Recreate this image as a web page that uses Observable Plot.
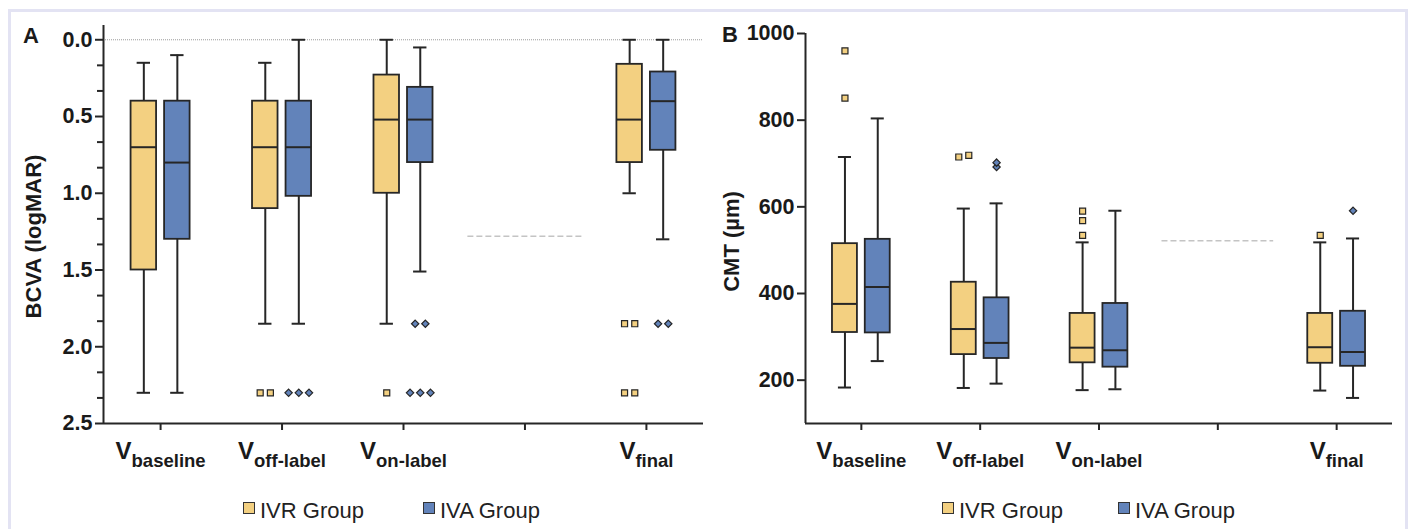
<!DOCTYPE html>
<html>
<head>
<meta charset="utf-8">
<script src="https://cdn.jsdelivr.net/npm/d3@7"></script>
<script src="https://cdn.jsdelivr.net/npm/@observablehq/plot@0.6"></script>
<style>
  html, body { margin: 0; padding: 0; background: #fff; }
  #root { position: relative; width: 1410px; height: 529px; overflow: hidden; background: #fff;
          font-family: "Liberation Sans", Arial, Helvetica, sans-serif; }
  .frame { position: absolute; left: 8px; top: 9px; width: 1400px; height: 560px;
           border: 3.5px solid #e3e3f3; box-sizing: border-box; }
  .letter { position: absolute; font-weight: bold; font-size: 22px; line-height: 1; color: #1a1a1a; }
  .sw { position: absolute; width: 10px; height: 10px; border: 1.5px solid #333; }
  .lt { position: absolute; font-size: 22px; line-height: 1; color: #222; white-space: nowrap; }
  svg { font-family: "Liberation Sans", Arial, Helvetica, sans-serif; }
</style>
</head>
<body>
<div id="root">
  <div class="frame"></div>
  <div id="A" style="position:absolute;left:0;top:0"></div>
  <div id="B" style="position:absolute;left:705px;top:0"></div>
  <div class="letter" style="left:23px;top:25px">A</div>
  <div class="letter" style="left:722px;top:24px">B</div>
</div>
<script>
// ---------- data ----------
const categories = ["baseline", "off-label", "on-label", "", "final"];
const groups = ["IVR Group", "IVA Group"];
const groupColors = ["#F3D081", "#6283BA"];

// BCVA (logMAR): whisker low, Q1, median, Q3, whisker high
const bcvaIVR = [
  {cat: "baseline",  lo: 0.15, q1: 0.40, med: 0.70, q3: 1.50, hi: 2.30},
  {cat: "off-label", lo: 0.15, q1: 0.40, med: 0.70, q3: 1.10, hi: 1.85},
  {cat: "on-label",  lo: 0.00, q1: 0.23, med: 0.52, q3: 1.00, hi: 1.85},
  {cat: "final",     lo: 0.00, q1: 0.16, med: 0.52, q3: 0.80, hi: 1.00}
];
const bcvaIVA = [
  {cat: "baseline",  lo: 0.10, q1: 0.40, med: 0.80, q3: 1.30, hi: 2.30},
  {cat: "off-label", lo: 0.00, q1: 0.40, med: 0.70, q3: 1.02, hi: 1.85},
  {cat: "on-label",  lo: 0.05, q1: 0.31, med: 0.52, q3: 0.80, hi: 1.51},
  {cat: "final",     lo: 0.00, q1: 0.21, med: 0.40, q3: 0.72, hi: 1.30}
];
const bcvaIVROut = [
  {cat: "off-label", v: 2.30}, {cat: "off-label", v: 2.30},
  {cat: "on-label", v: 2.30},
  {cat: "final", v: 1.85}, {cat: "final", v: 1.85}, {cat: "final", v: 2.30}, {cat: "final", v: 2.30}
];
const bcvaIVAOut = [
  {cat: "off-label", v: 2.30}, {cat: "off-label", v: 2.30}, {cat: "off-label", v: 2.30},
  {cat: "on-label", v: 1.85}, {cat: "on-label", v: 1.85},
  {cat: "on-label", v: 2.30}, {cat: "on-label", v: 2.30}, {cat: "on-label", v: 2.30},
  {cat: "final", v: 1.85}, {cat: "final", v: 1.85}
];
const bcvaTicks = [0, 0.5, 1.0, 1.5, 2.0, 2.5];
const bcvaMinorTicks = [1/6, 2/6, 4/6, 5/6, 7/6, 8/6, 10/6, 11/6, 13/6, 14/6];
const bcvaGap = [1.28];

// CMT (µm)
const cmtIVR = [
  {cat: "baseline",  lo: 183, q1: 310, med: 376, q3: 515, hi: 715},
  {cat: "off-label", lo: 182, q1: 259, med: 318, q3: 426, hi: 596},
  {cat: "on-label",  lo: 177, q1: 240, med: 275, q3: 354, hi: 518},
  {cat: "final",     lo: 176, q1: 239, med: 276, q3: 354, hi: 518}
];
const cmtIVA = [
  {cat: "baseline",  lo: 244, q1: 309, med: 415, q3: 525, hi: 804},
  {cat: "off-label", lo: 192, q1: 250, med: 286, q3: 390, hi: 608},
  {cat: "on-label",  lo: 179, q1: 230, med: 269, q3: 377, hi: 591},
  {cat: "final",     lo: 159, q1: 232, med: 265, q3: 359, hi: 527}
];
const cmtIVROut = [
  {cat: "baseline", v: 960}, {cat: "baseline", v: 851},
  {cat: "off-label", v: 715}, {cat: "off-label", v: 719},
  {cat: "on-label", v: 590}, {cat: "on-label", v: 568}, {cat: "on-label", v: 534},
  {cat: "final", v: 534}
];
const cmtIVAOut = [
  {cat: "off-label", v: 702}, {cat: "off-label", v: 692},
  {cat: "final", v: 591}
];
const cmtTicks = [200, 400, 600, 800, 1000];
const cmtGap = [522];

// ---------- drawing ----------
const xDomain = [-0.47, 4.47];
const OFF = 0.138, BW = 0.21, CW = 0.11, JIT = 0.084;
const INK = "#262626";
const ns = "http://www.w3.org/2000/svg";

function pos(cat, g) { return categories.indexOf(cat) + (g === 0 ? -OFF : OFF); }

function spread(list, g, thresh) {
  const out = [];
  for (const c of categories) {
    const vals = list.filter(d => d.cat === c).map(d => d.v).sort((a, b) => a - b);
    let i = 0;
    while (i < vals.length) {
      let j = i;
      while (j + 1 < vals.length && vals[j + 1] - vals[j] < thresh) j++;
      const n = j - i + 1;
      for (let k = 0; k < n; k++) out.push({x: pos(c, g) + (k - (n - 1) / 2) * JIT, y: vals[i + k]});
      i = j + 1;
    }
  }
  return out;
}

function boxMarks(data, g) {
  const fill = groupColors[g];
  return [
    Plot.ruleX(data, {x: d => pos(d.cat, g), y1: "lo", y2: "q1", stroke: INK, strokeWidth: 2}),
    Plot.ruleX(data, {x: d => pos(d.cat, g), y1: "q3", y2: "hi", stroke: INK, strokeWidth: 2}),
    Plot.ruleY(data, {y: "lo", x1: d => pos(d.cat, g) - CW / 2, x2: d => pos(d.cat, g) + CW / 2, stroke: INK, strokeWidth: 2}),
    Plot.ruleY(data, {y: "hi", x1: d => pos(d.cat, g) - CW / 2, x2: d => pos(d.cat, g) + CW / 2, stroke: INK, strokeWidth: 2}),
    Plot.rect(data, {x1: d => pos(d.cat, g) - BW / 2, x2: d => pos(d.cat, g) + BW / 2, y1: "q1", y2: "q3",
                     fill, stroke: INK, strokeWidth: 1.8}),
    Plot.ruleY(data, {y: "med", x1: d => pos(d.cat, g) - BW / 2, x2: d => pos(d.cat, g) + BW / 2, stroke: INK, strokeWidth: 2})
  ];
}

function panel(o) {
  const yBottom = o.reverse ? o.yDomain[1] : o.yDomain[0];
  const marks = [];
  if (o.zeroLine) marks.push(Plot.ruleY([0], {stroke: "#9a9a9a", strokeWidth: 1, strokeDasharray: "1,1"}));
  marks.push(Plot.ruleY(o.gap, {x1: 3 - 0.47, x2: 3 + 0.47, stroke: "#c4c4c4", strokeWidth: 1.5, strokeDasharray: "6,3"}));
  marks.push(
    Plot.axisY({ticks: o.ticks, tickSize: 8, tickPadding: 3, tickFormat: o.fmt, label: null,
                fontSize: 21, fontWeight: "bold", stroke: INK, fill: "#1a1a1a", strokeWidth: 2}),
    Plot.axisX({ticks: [0, 1, 2, 3, 4], tickSize: 7, tickPadding: 12, tickFormat: i => categories[i], label: null,
                fontSize: 23, fontWeight: "bold", stroke: INK, fill: "#1a1a1a", strokeWidth: 2})
  );
  if (o.minor) marks.push(Plot.axisY({ticks: o.minor, tickSize: 6, tickFormat: () => "", label: null, stroke: INK, strokeWidth: 2}));
  marks.push(
    Plot.ruleX([xDomain[0]], {stroke: INK, strokeWidth: 2}),
    Plot.ruleY([yBottom], {stroke: INK, strokeWidth: 2}),
    ...boxMarks(o.ivr, 0),
    ...boxMarks(o.iva, 1),
    Plot.dot(spread(o.ivrOut, 0, o.thresh), {x: "x", y: "y", symbol: "square", r: 3.4, fill: groupColors[0], stroke: INK, strokeWidth: 1.2}),
    Plot.dot(spread(o.ivaOut, 1, o.thresh), {x: "x", y: "y", symbol: "diamond2", r: 3.3, fill: groupColors[1], stroke: INK, strokeWidth: 1.2}),
    Plot.text([o.yLabel], {frameAnchor: "left", textAnchor: "middle", dx: o.labelDx, dy: o.labelDy, rotate: -90,
                            fontSize: 22, fontWeight: "bold", fill: "#1a1a1a"})
  );
  const svg = Plot.plot({
    width: 705, height: 490,
    marginTop: o.mt, marginBottom: o.mb, marginLeft: o.ml, marginRight: o.mr,
    x: {type: "linear", domain: xDomain, axis: null},
    y: {type: "linear", domain: o.yDomain, reverse: o.reverse, axis: null},
    style: {background: "transparent", overflow: "visible"},
    marks
  });
  // y tick labels: enforce size and weight
  svg.querySelectorAll('[aria-label="y-axis tick label"] text').forEach(t => {
    t.style.fontSize = "21.5px";
    t.style.fontWeight = "bold";
  });
  // subscript tick labels: V + category
  svg.querySelectorAll('[aria-label="x-axis tick label"] text').forEach(t => {
    const s = t.textContent;
    t.textContent = "";
    t.style.fontSize = "23px";
    t.style.fontWeight = "bold";
    if (!s) return;
    const v = document.createElementNS(ns, "tspan");
    v.style.fontSize = "24px"; v.textContent = "V";
    const sub = document.createElementNS(ns, "tspan");
    sub.style.fontSize = "18.5px"; sub.setAttribute("dy", 8); sub.textContent = s;
    t.append(v, sub);
  });
  return svg;
}

document.getElementById("A").append(panel({
  ivr: bcvaIVR, iva: bcvaIVA, ivrOut: bcvaIVROut, ivaOut: bcvaIVAOut,
  yDomain: [-0.093, 2.5], reverse: true, ticks: bcvaTicks, minor: bcvaMinorTicks,
  fmt: d3.format(".1f"), gap: bcvaGap, zeroLine: true, thresh: 0.02,
  yLabel: "BCVA (logMAR)", labelDx: -70, labelDy: 12,
  mt: 25, mb: 67, ml: 103, mr: 2
}));
document.getElementById("B").append(panel({
  ivr: cmtIVR, iva: cmtIVA, ivrOut: cmtIVROut, ivaOut: cmtIVAOut,
  yDomain: [100, 1000], reverse: false, ticks: cmtTicks, minor: null,
  fmt: d => String(d), gap: cmtGap, zeroLine: false, thresh: 7,
  yLabel: "CMT (µm)", labelDx: -74, labelDy: 13,
  mt: 33, mb: 67, ml: 100, mr: 18
}));

// legends
const root = document.getElementById("root");
const legendPos = [[243, 423], [942, 1118]];
legendPos.forEach(xs => {
  groups.forEach((g, i) => {
    const sw = document.createElement("div");
    sw.className = "sw";
    sw.style.left = xs[i] + "px"; sw.style.top = "502px"; sw.style.background = groupColors[i];
    const lt = document.createElement("div");
    lt.className = "lt";
    lt.style.left = (xs[i] + 17) + "px"; lt.style.top = "500px";
    lt.textContent = g;
    root.append(sw, lt);
  });
});
</script>
</body>
</html>
